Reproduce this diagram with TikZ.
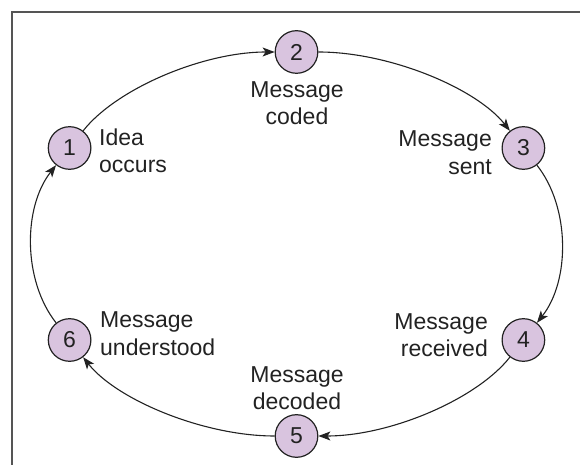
\documentclass[tikz,border=0pt]{standalone}
\usepackage{fontspec}
\setmainfont{Liberation Sans}
\usetikzlibrary{arrows.meta}
\definecolor{stagefill}{HTML}{D9C4DF}
\definecolor{inkc}{HTML}{222222}
\definecolor{framec}{HTML}{555555}
\tikzset{
  stage/.style={circle,draw=inkc,line width=1.2pt,fill=stagefill,minimum size=42.6pt,inner sep=0pt,
    text=inkc,font=\fontsize{23}{27.7}\selectfont},
  lbl/.style={inner sep=0pt,text=inkc,font=\fontsize{23}{27.7}\selectfont},
  flow/.style={draw=inkc,line width=1.1pt,-{Stealth[length=12pt,width=9pt,inset=3pt]}},
  framel/.style={draw=framec,line width=1.5pt}
}
\begin{document}
\begin{tikzpicture}[x=1pt,y=1pt]
\useasboundingbox (0,0) rectangle (580,465);
\coordinate (fbl) at (12,0);
\coordinate (ftl) at (12,453);
\coordinate (ftr) at (580,453);
\draw[framel] (fbl) -- (ftl) -- (ftr);

\node[stage] (n1) at (69.6,317) {1};
\node[stage] (n2) at (296.5,413) {2};
\node[stage] (n3) at (523.4,317) {3};
\node[stage] (n4) at (523.4,125) {4};
\node[stage] (n5) at (296.5,29) {5};
\node[stage] (n6) at (69.6,125) {6};

% anchor=base of a multi-line node sits on the baseline of its last line
\node[lbl,anchor=base west,align=left] (l1) at (99,292) {Idea\\occurs};
\node[lbl,anchor=base,align=center] (l2) at (297,340) {Message\\coded};
\node[lbl,anchor=base east,align=right] (l3) at (492,290.7) {Message\\sent};
\node[lbl,anchor=base east,align=right] (l4) at (488,108) {Message\\received};
\node[lbl,anchor=base,align=center] (l5) at (297,55) {Message\\decoded};
\node[lbl,anchor=base west,align=left] (l6) at (100,109.3) {Message\\understood};

\draw[flow] (n1) .. controls +(46.8,59.4) and +(-93.6,0) .. (n2);
\draw[flow] (n2) .. controls +(93.6,0) and +(-46.8,59.4) .. (n3);
\draw[flow] (n3) .. controls +(46.8,-59.4) and +(46.8,59.4) .. (n4);
\draw[flow] (n4) .. controls +(-46.8,-59.4) and +(93.6,0) .. (n5);
\draw[flow] (n5) .. controls +(-93.6,0) and +(46.8,-59.4) .. (n6);
\draw[flow] (n6) .. controls +(-46.8,59.4) and +(-46.8,-59.4) .. (n1);
\end{tikzpicture}
\end{document}
